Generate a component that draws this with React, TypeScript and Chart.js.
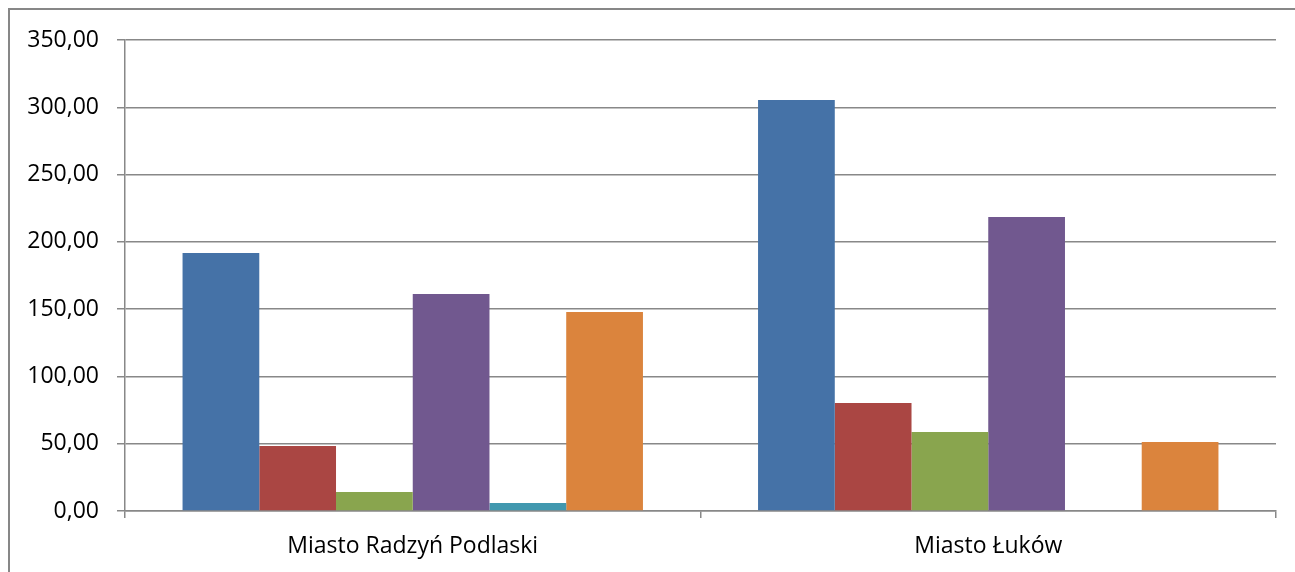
import React, { useEffect, useRef } from "react";
import { Chart, registerables } from "chart.js";

Chart.register(...registerables);

const categories = ["Miasto Radzyń Podlaski", "Miasto Łuków"];
const seriesBlue = [191.7, 305.4];
const seriesRed = [48.3, 80.3];
const seriesGreen = [14.1, 58.7];
const seriesPurple = [161.3, 218.5];
const seriesTeal = [5.9, null];
const seriesOrange = [147.9, 51.3];
const yTicks = [0, 50, 100, 150, 200, 250, 300, 350];

const colors = ["#4572A7", "#AA4643", "#89A54E", "#71588F", "#4198AF", "#DB843D"];

const borderPlugin = {
  id: "outerBorder",
  beforeDraw(chart: any) {
    const ctx = chart.ctx;
    ctx.save();
    ctx.strokeStyle = "#878787";
    ctx.lineWidth = 2;
    ctx.beginPath();
    ctx.moveTo(9, chart.height + 5);
    ctx.lineTo(9, 9);
    ctx.lineTo(chart.width + 5, 9);
    ctx.stroke();
    ctx.restore();
  },
};

export default function App() {
  const ref = useRef<HTMLCanvasElement | null>(null);

  useEffect(() => {
    document.body.style.margin = "0";
    if (!ref.current) return;
    const all = [seriesBlue, seriesRed, seriesGreen, seriesPurple, seriesTeal, seriesOrange];
    const chart = new Chart(ref.current, {
      type: "bar",
      data: {
        labels: categories,
        datasets: all.map((d, i) => ({
          label: "S" + (i + 1),
          data: d as any,
          backgroundColor: colors[i],
          borderWidth: 0,
          categoryPercentage: 0.8,
          barPercentage: 1.0,
        })),
      },
      options: {
        animation: false,
        responsive: false,
        maintainAspectRatio: false,
        layout: { padding: { left: 0, top: 40, right: 19, bottom: 0 } },
        plugins: { legend: { display: false }, tooltip: { enabled: false } },
        scales: {
          x: {
            offset: true,
            grid: {
              display: true,
              drawOnChartArea: false,
              drawTicks: true,
              tickLength: 7,
              color: "#888888",
              lineWidth: 1.5,
              offset: true,
            },
            border: { display: true, color: "#888888", width: 1.5 },
            ticks: {
              color: "#000000",
              font: { family: "Open Sans", size: 23 },
              padding: 15,
              maxRotation: 0,
            },
            afterFit: (s: any) => {
              s.height = 61;
            },
          },
          y: {
            min: 0,
            max: 350,
            afterBuildTicks: (s: any) => {
              s.ticks = yTicks.map((v) => ({ value: v }));
            },
            grid: {
              color: "#888888",
              lineWidth: 1.5,
              tickLength: 8,
            },
            border: { display: true, color: "#888888", width: 1.5 },
            ticks: {
              color: "#000000",
              font: { family: "Open Sans", size: 23 },
              padding: 18,
              callback: (v: any) => Number(v).toFixed(2).replace(".", ","),
            },
            afterFit: (s: any) => {
              s.width = 125;
            },
          },
        },
      },
      plugins: [borderPlugin],
    });
    return () => chart.destroy();
  }, []);

  return (
    <div style={{ width: 1295, height: 572, position: "relative" }}>
      <canvas ref={ref} width={1295} height={572} style={{ display: "block", width: 1295, height: 572 }} />
    </div>
  );
}
